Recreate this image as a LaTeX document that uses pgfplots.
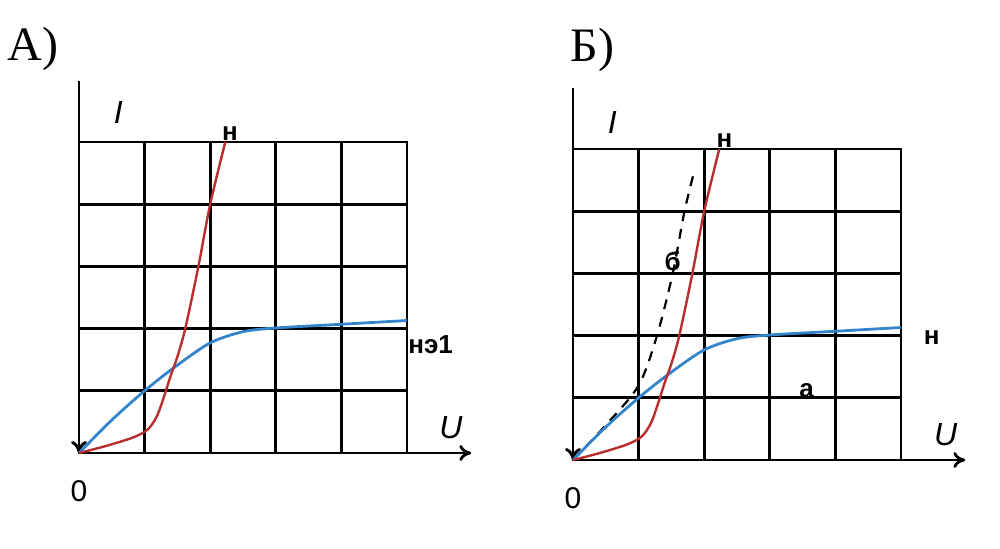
\documentclass[border=0pt]{standalone}
\usepackage{pgfplots}
\pgfplotsset{compat=1.18}
\usetikzlibrary{arrows.meta}
\usepackage{fontspec}
\setmainfont{Liberation Sans}
\newfontfamily\serif{Liberation Serif}
\definecolor{cred}{RGB}{185,45,45}
\definecolor{cblue}{RGB}{52,132,204}

\pgfplotstableread{
x y
0 0
0.4 0.11
0.8 0.24
1.0 0.34
1.1 0.44
1.2 0.62
1.3 0.92
1.4 1.25
1.5 1.55
1.62 2
1.82 3
2.0 4
2.23 5
}\redcurve

\pgfplotstableread{
x y
0 0
0.5 0.53
1 1
1.47 1.39
2 1.77
2.5 1.95
3 2.01
4 2.07
5 2.13
}\bluecurve

\pgfplotstableread{
x y
0 0
0.5 0.56
1 1.2
1.28 2
1.52 3
1.7 4
1.85 4.65
}\dashcurve

\pgfplotsset{
  vac/.style={
    x=32.8pt, y=31.1pt,
    xmin=0, xmax=5, ymin=0, ymax=5,
    xtick={0,...,5}, ytick={0,...,5},
    xticklabels={}, yticklabels={},
    major tick length=0pt,
    grid=major,
    major grid style={black, line width=1.45pt},
    axis line style={black, line width=1.45pt},
    clip=false,
    anchor=south west,
  },
}
\tikzset{
  lbl/.style={font=\fontsize{13}{15}\selectfont\bfseries},
  ax/.style={font=\fontsize{16}{18}\selectfont\itshape},
}

\begin{document}
\begin{tikzpicture}
\useasboundingbox (0,0) rectangle (500pt,274pt);

% panel A
\begin{axis}[vac, at={(39.5pt,47.5pt)}]
\draw[black, line width=1.45pt, {To[length=6pt,width=8pt]}-] (axis cs:0,0) -- (axis cs:0,5.98);
\draw[black, line width=1.45pt, -{To[length=6pt,width=8pt]}] (axis cs:0,0) -- (axis cs:5.98,0);
\addplot[cblue, line width=1.4pt, smooth] table {\bluecurve};
\addplot[cred, line width=1.2pt, smooth] table {\redcurve};
\node[lbl] at (axis cs:2.3,5.13) {н};
\node[lbl] at (axis cs:5.36,1.74) {нэ1};
\node[ax] at (axis cs:5.67,0.4) {U};
\node[ax] at (axis cs:0.6,5.48) {I};
\node[font=\fontsize{15}{17}\selectfont] at (axis cs:0,-0.62) {0};
\node[font=\fontsize{24}{26}\selectfont\serif] at (axis cs:-0.7,6.5) {A)};
\end{axis}

% panel B
\begin{axis}[vac, at={(286.5pt,44pt)}]
\draw[black, line width=1.45pt, {To[length=6pt,width=8pt]}-] (axis cs:0,0) -- (axis cs:0,5.98);
\draw[black, line width=1.45pt, -{To[length=6pt,width=8pt]}] (axis cs:0,0) -- (axis cs:5.98,0);
\addplot[black, line width=1.1pt, dash pattern=on 5pt off 4pt, smooth] table {\dashcurve};
\addplot[cblue, line width=1.4pt, smooth] table {\bluecurve};
\addplot[cred, line width=1.2pt, smooth] table {\redcurve};
\node[lbl] at (axis cs:2.31,5.13) {н};
\node[lbl] at (axis cs:5.47,1.97) {н};
\node[lbl] at (axis cs:1.52,3.2) {б};
\node[lbl] at (axis cs:3.56,1.12) {а};
\node[ax] at (axis cs:5.68,0.4) {U};
\node[ax] at (axis cs:0.6,5.42) {I};
\node[font=\fontsize{15}{17}\selectfont] at (axis cs:0,-0.62) {0};
\node[font=\fontsize{24}{26}\selectfont\serif] at (axis cs:0.3,6.6) {Б)};
\end{axis}
\end{tikzpicture}
\end{document}
